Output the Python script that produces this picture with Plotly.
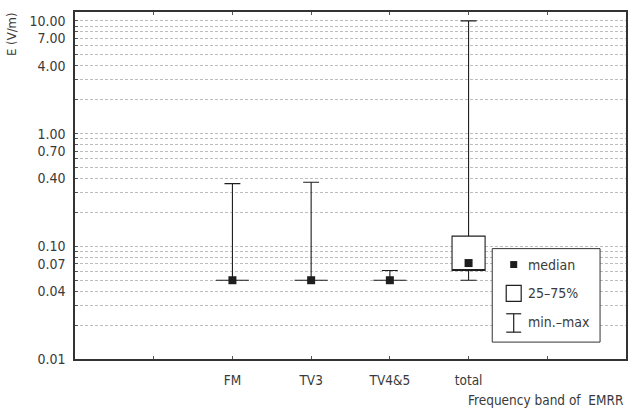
import plotly.graph_objects as go

categories = ["FM", "TV3", "TV4&5", "total"]
v_min = [0.05, 0.05, 0.05, 0.05]
v_q1 = [0.05, 0.05, 0.05, 0.061]
v_median = [0.05, 0.05, 0.05, 0.071]
v_q3 = [0.05, 0.05, 0.05, 0.123]
v_max = [0.36, 0.37, 0.061, 10.0]

y_tick_labels = ["0.01", "0.04", "0.07", "0.10", "0.40", "0.70", "1.00", "4.00", "7.00", "10.00"]

positions = [i + 1 for i in range(len(categories))]

W, H = 638, 409
L, R, T, B = 75, 11, 10, 50
pw, ph = W - L - R, H - T - B

def px(x):
    return (x - L) / pw

def py(y):
    return (H - B - y) / ph

FONT = "Liberation Sans Narrow, DejaVu Sans Condensed, Arial Narrow, sans-serif"
TXT = "#3a3a3a"
INK = "#1e1e1e"

fig = go.Figure()

# boxes + whiskers (median line placed on the lower quartile edge; real median drawn as marker)
fig.add_trace(go.Box(
    x=positions, q1=v_q1, median=v_q1, q3=v_q3,
    lowerfence=v_min, upperfence=v_max,
    width=0.42, whiskerwidth=0.48, boxpoints=False,
    fillcolor="white", line=dict(color=INK, width=1.1),
    hoverinfo="skip", showlegend=False,
))
fig.add_trace(go.Scatter(
    x=positions, y=v_median, mode="markers",
    marker=dict(symbol="square", size=8, color=INK),
    hoverinfo="skip", showlegend=False,
))

# grid values: every 1..9 x decade
grid_vals = []
for e in [-2, -1, 0, 1]:
    for m in range(1, 10):
        v = m * 10 ** e
        if v <= 10.0001:
            grid_vals.append(round(v, 4))
label_map = {float(t): t for t in y_tick_labels}
grid_text = [label_map.get(v, "") for v in grid_vals]

fig.update_layout(
    width=W, height=H,
    margin=dict(l=L, r=R, t=T, b=B),
    plot_bgcolor="white", paper_bgcolor="white",
    font=dict(family=FONT, size=13, color=TXT),
    xaxis=dict(
        range=[-1, 6],
        tickvals=[0] + positions + [5],
        ticktext=[""] + categories + [""],
        ticks="inside", ticklen=3, tickcolor="#555",
        showgrid=False, zeroline=False,
        showline=True, linecolor="#333", linewidth=1.5, mirror="ticks",
        tickfont=dict(size=13.5, color=TXT),
        ticklabelstandoff=8,
    ),
    yaxis=dict(
        type="log", range=[-2, 1.079],
        tickvals=grid_vals, ticktext=grid_text,
        ticks="inside", ticklen=3, tickcolor="#555",
        showgrid=True, gridcolor="#bdbdbd", griddash="3px,2px", gridwidth=1,
        zeroline=False,
        showline=True, linecolor="#333", linewidth=1.5, mirror=True,
        tickfont=dict(size=14, color=TXT),
        ticklabelstandoff=5,
    ),
    yaxis2=dict(
        overlaying="y", side="right", range=[0, 6],
        tickvals=[1, 2, 3, 4, 5], ticks="inside", ticklen=3, tickcolor="#555",
        showticklabels=False, showgrid=False, zeroline=False, showline=False,
    ),
)

# axis titles
fig.add_annotation(text="E (V/m)", x=px(12), y=py(32), xref="paper", yref="paper",
                   textangle=-90, showarrow=False, font=dict(size=13, color=TXT),
                   xanchor="center", yanchor="middle")
fig.add_annotation(text="Frequency band of  EMRR", x=1.0, y=py(400), xref="paper", yref="paper",
                   showarrow=False, font=dict(size=13.5, color=TXT),
                   xanchor="right", yanchor="middle")

# custom legend
fig.add_shape(type="rect", xref="paper", yref="paper",
              x0=px(493), x1=px(601), y0=py(342), y1=py(248),
              line=dict(color="#333", width=1), fillcolor="white", layer="above")
fig.add_shape(type="rect", xref="paper", yref="paper",
              x0=px(511), x1=px(518), y0=py(267.5), y1=py(260.5),
              line=dict(width=0), fillcolor=INK, layer="above")
fig.add_shape(type="rect", xref="paper", yref="paper",
              x0=px(507), x1=px(522), y0=py(301), y1=py(285),
              line=dict(color=INK, width=1.2), fillcolor="white", layer="above")
fig.add_shape(type="line", xref="paper", yref="paper",
              x0=px(514.5), x1=px(514.5), y0=py(332), y1=py(313.5),
              line=dict(color=INK, width=1.2), layer="above")
fig.add_shape(type="line", xref="paper", yref="paper",
              x0=px(507), x1=px(522), y0=py(313.5), y1=py(313.5),
              line=dict(color=INK, width=1.2), layer="above")
fig.add_shape(type="line", xref="paper", yref="paper",
              x0=px(507), x1=px(522), y0=py(332), y1=py(332),
              line=dict(color=INK, width=1.2), layer="above")
for txt, yy in [("median", 264), ("25\u201375%", 293), ("min.\u2013max", 322)]:
    fig.add_annotation(text=txt, x=px(527), y=py(yy), xref="paper", yref="paper",
                       showarrow=False, xanchor="left", yanchor="middle",
                       font=dict(size=14, color=TXT))

fig.write_html("out.html")
